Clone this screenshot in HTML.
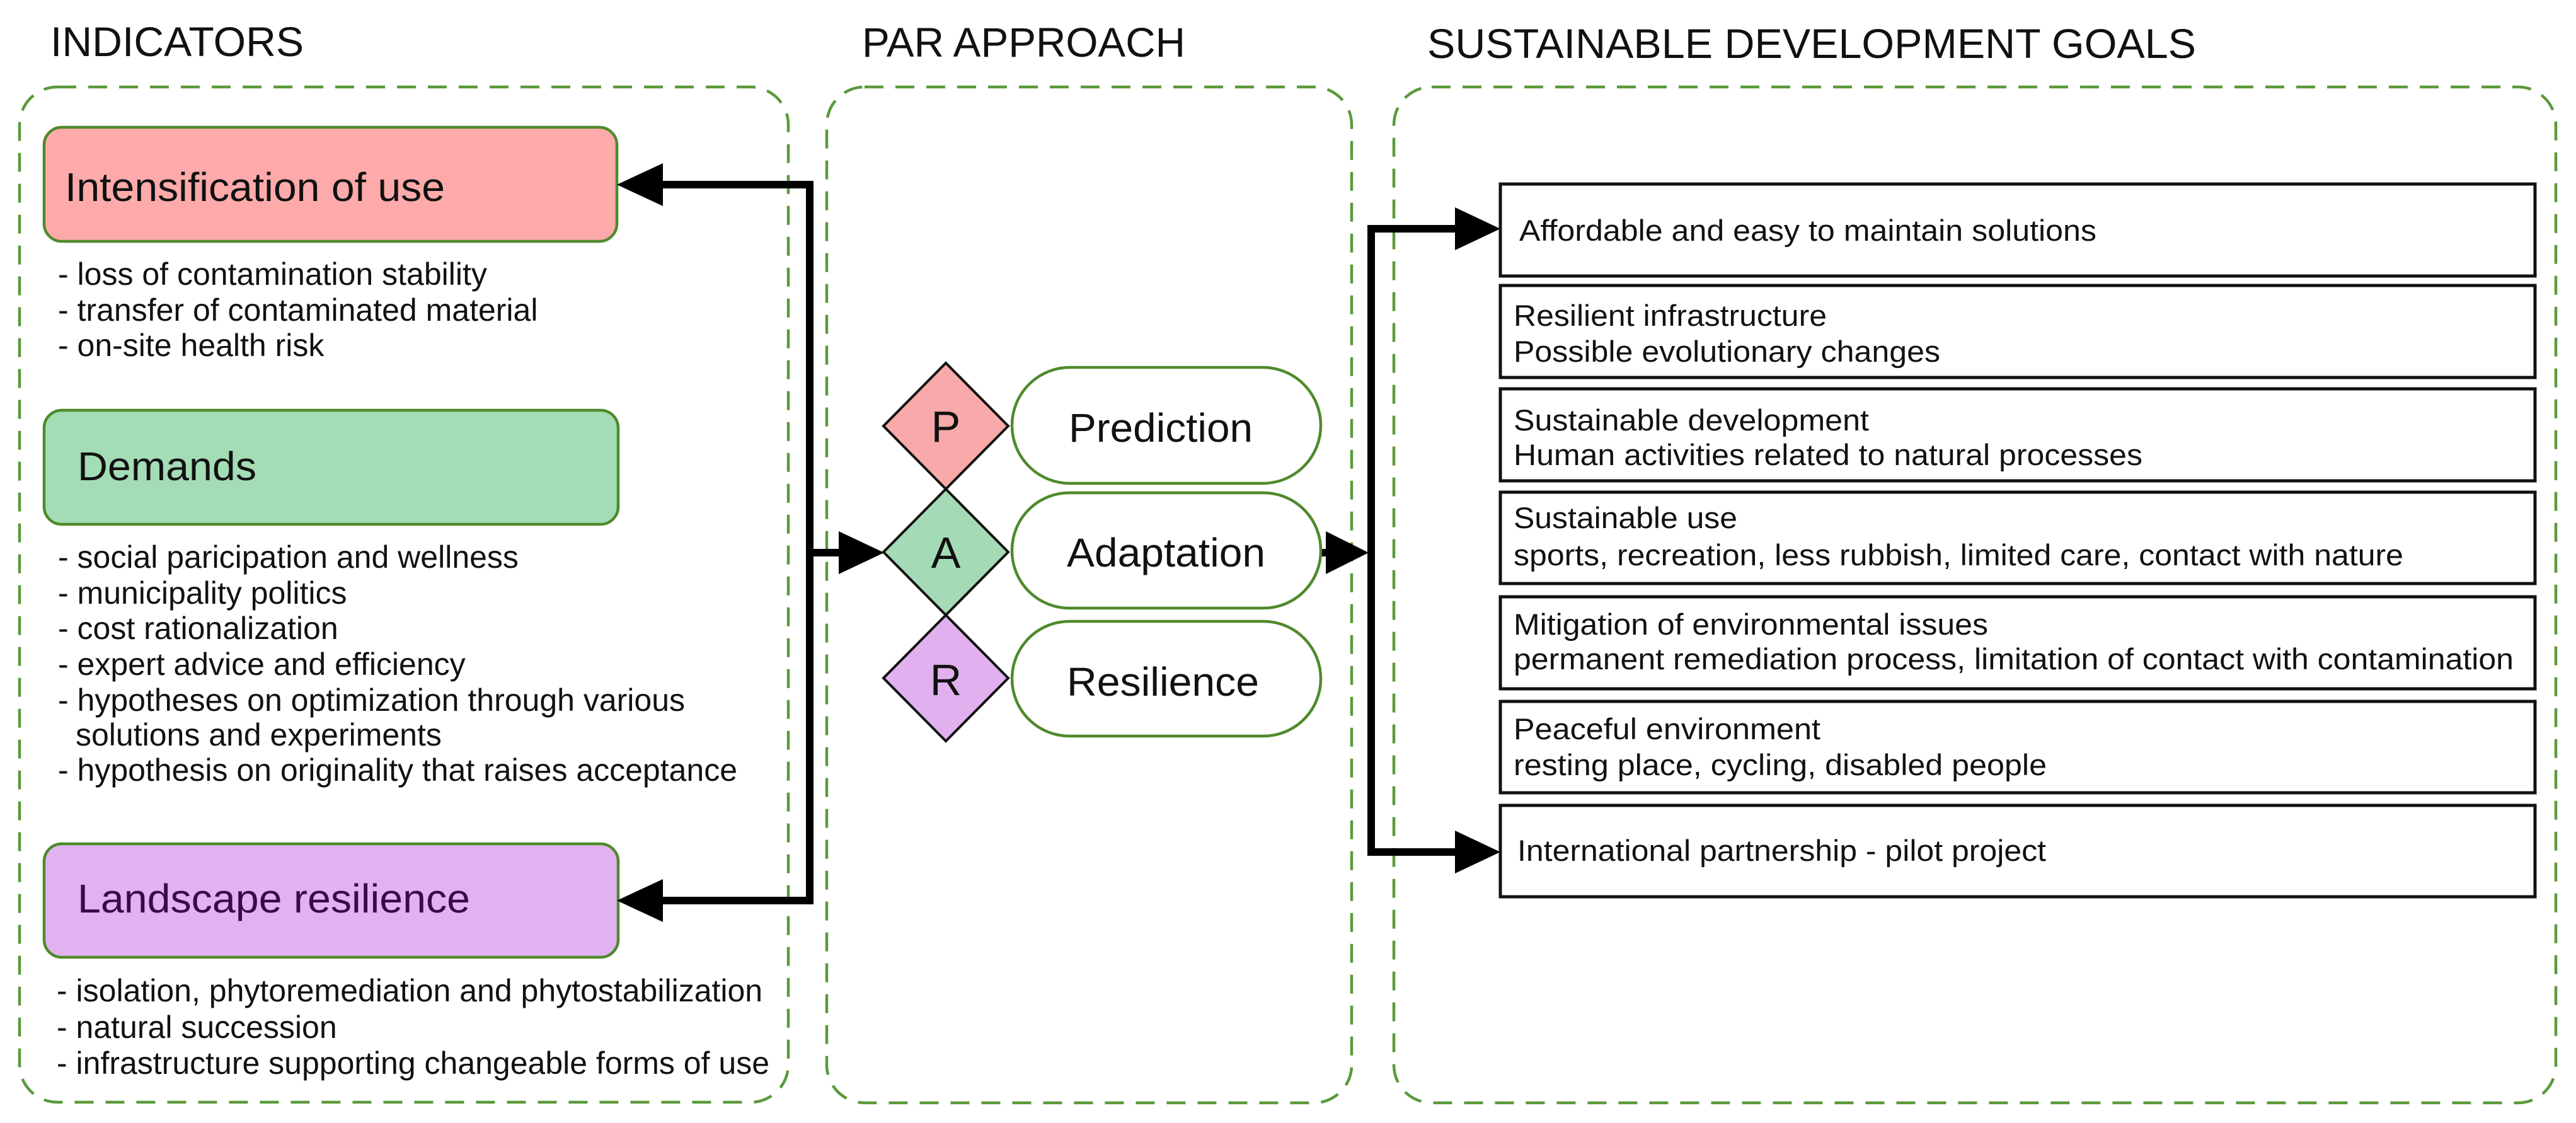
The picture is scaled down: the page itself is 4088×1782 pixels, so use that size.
<!DOCTYPE html>
<html><head><meta charset="utf-8"><style>html,body{margin:0;padding:0;background:#fff}svg{display:block}</style></head>
<body>
<svg width="4088" height="1782" viewBox="0 0 4088 1782" xmlns="http://www.w3.org/2000/svg" font-family="Liberation Sans, Arial, sans-serif">
<rect width="4088" height="1782" fill="#fff"/>
<g font-size="66" fill="#111">
<text x="80" y="89" textLength="402" lengthAdjust="spacingAndGlyphs">INDICATORS</text>
<text x="1368" y="90" textLength="513" lengthAdjust="spacingAndGlyphs">PAR APPROACH</text>
<text x="2265" y="92" textLength="1220" lengthAdjust="spacingAndGlyphs">SUSTAINABLE DEVELOPMENT GOALS</text>
</g>
<g fill="none" stroke="#5a9a3a" stroke-width="4.5" stroke-dasharray="30 19">
<rect x="31" y="138" width="1220" height="1611" rx="60"/>
<rect x="1312" y="138" width="833" height="1612" rx="60"/>
<rect x="2212" y="138" width="1844" height="1612" rx="60"/>
</g>
<g stroke="#4f8a2b" stroke-width="4.5">
<rect x="70" y="202" width="909" height="181" rx="28" fill="#ffaaaa"/>
<rect x="70" y="651" width="911" height="181" rx="28" fill="#a4dcb6"/>
<rect x="70" y="1339" width="911" height="180" rx="28" fill="#e1b2ef"/>
</g>
<g font-size="64">
<text x="103" y="319" fill="#111" textLength="603" lengthAdjust="spacingAndGlyphs">Intensification of use</text>
<text x="123" y="762" fill="#111" textLength="284" lengthAdjust="spacingAndGlyphs">Demands</text>
<text x="123" y="1448" fill="#3a0a48" textLength="623" lengthAdjust="spacingAndGlyphs">Landscape resilience</text>
</g>
<g font-size="50" fill="#111">
<text x="92" y="452">- loss of contamination stability</text>
<text x="92" y="509">- transfer of contaminated material</text>
<text x="92" y="565">- on-site health risk</text>
<text x="92" y="901">- social paricipation and wellness</text>
<text x="92" y="958">- municipality politics</text>
<text x="92" y="1014">- cost rationalization</text>
<text x="92" y="1071">- expert advice and efficiency</text>
<text x="92" y="1128">- hypotheses on optimization through various</text>
<text x="120" y="1183">solutions and experiments</text>
<text x="92" y="1239" textLength="1078" lengthAdjust="spacingAndGlyphs">- hypothesis on originality that raises acceptance</text>
<text x="90" y="1589">- isolation, phytoremediation and phytostabilization</text>
<text x="90" y="1647">- natural succession</text>
<text x="90" y="1704" textLength="1131" lengthAdjust="spacingAndGlyphs">- infrastructure supporting changeable forms of use</text>
</g>
<g stroke="#000" stroke-width="12" fill="none">
<polyline points="1050,293 1285,293 1285,1429 1050,1429"/>
<line x1="1285" y1="877" x2="1335" y2="877"/>
<line x1="2094" y1="877" x2="2108" y2="877"/>
<polyline points="2310,363 2176,363 2176,1352 2310,1352"/>
</g>
<g fill="#000">
<polygon points="979,293 1052,259 1052,327"/>
<polygon points="979,1429 1052,1395 1052,1463"/>
<polygon points="1403,877 1331,843 1331,911"/>
<polygon points="2172,877 2104,843 2104,911"/>
<polygon points="2381,363 2309,329 2309,397"/>
<polygon points="2381,1352 2309,1318 2309,1386"/>
</g>
<g stroke="#111" stroke-width="4">
<polygon points="1501,576 1600,676 1501,776 1402,676" fill="#f9a9a9"/>
<polygon points="1501,776 1600,876 1501,976 1402,876" fill="#a4dbb6"/>
<polygon points="1501,976 1600,1076 1501,1176 1402,1076" fill="#e1b1ef"/>
</g>
<g font-size="70" fill="#111" text-anchor="middle">
<text x="1501" y="701">P</text>
<text x="1501" y="901">A</text>
<text x="1501" y="1103">R</text>
</g>
<g fill="#fff" stroke="#4f8a2b" stroke-width="4.5">
<rect x="1606" y="583" width="490" height="184" rx="92"/>
<rect x="1606" y="782" width="490" height="183" rx="91"/>
<rect x="1606" y="986" width="490" height="182" rx="91"/>
</g>
<g font-size="64" fill="#111">
<text x="1696" y="701" textLength="292" lengthAdjust="spacingAndGlyphs">Prediction</text>
<text x="1693" y="899" textLength="315" lengthAdjust="spacingAndGlyphs">Adaptation</text>
<text x="1693" y="1104" textLength="305" lengthAdjust="spacingAndGlyphs">Resilience</text>
</g>
<g fill="#fff" stroke="#111" stroke-width="5">
<rect x="2381" y="292" width="1642" height="146"/>
<rect x="2381" y="453" width="1642" height="146"/>
<rect x="2381" y="617" width="1642" height="146"/>
<rect x="2381" y="781" width="1642" height="145"/>
<rect x="2381" y="947" width="1642" height="146"/>
<rect x="2381" y="1113" width="1642" height="145"/>
<rect x="2381" y="1278" width="1642" height="145"/>
</g>
<g font-size="47" fill="#111" lengthAdjust="spacingAndGlyphs">
<text x="2411" y="382" textLength="916" lengthAdjust="spacingAndGlyphs">Affordable and easy to maintain solutions</text>
<text x="2402" y="517" textLength="497" lengthAdjust="spacingAndGlyphs">Resilient infrastructure</text>
<text x="2402" y="574" textLength="677" lengthAdjust="spacingAndGlyphs">Possible evolutionary changes</text>
<text x="2402" y="683" textLength="564" lengthAdjust="spacingAndGlyphs">Sustainable development</text>
<text x="2402" y="738" textLength="998" lengthAdjust="spacingAndGlyphs">Human activities related to natural processes</text>
<text x="2402" y="838" textLength="355" lengthAdjust="spacingAndGlyphs">Sustainable use</text>
<text x="2402" y="897" textLength="1412" lengthAdjust="spacingAndGlyphs">sports, recreation, less rubbish, limited care, contact with nature</text>
<text x="2402" y="1007" textLength="753" lengthAdjust="spacingAndGlyphs">Mitigation of environmental issues</text>
<text x="2402" y="1062" textLength="1587" lengthAdjust="spacingAndGlyphs">permanent remediation process, limitation of contact with contamination</text>
<text x="2402" y="1173" textLength="487" lengthAdjust="spacingAndGlyphs">Peaceful environment</text>
<text x="2402" y="1230" textLength="846" lengthAdjust="spacingAndGlyphs">resting place, cycling, disabled people</text>
<text x="2408" y="1366" textLength="839" lengthAdjust="spacingAndGlyphs">International partnership - pilot project</text>
</g>
</svg>
</body></html>
